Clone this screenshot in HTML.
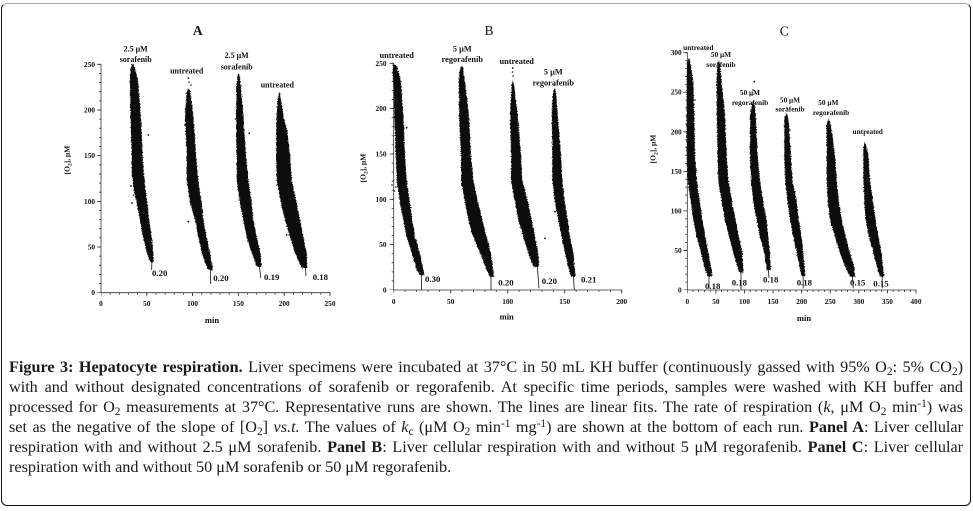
<!DOCTYPE html>
<html>
<head>
<meta charset="utf-8">
<style>
  html,body{margin:0;padding:0;background:#fff;}
  body{width:973px;height:511px;position:relative;overflow:hidden;}
  .frame{position:absolute;left:0.5px;top:2.5px;width:968px;height:501px;border:1.5px solid #111;border-top-color:#aaa;border-radius:6px;}
  svg{position:absolute;left:0;top:0;}
  .cap{position:absolute;left:9px;top:357px;width:954px;font-family:"Liberation Serif",serif;font-size:16.2px;line-height:20px;color:#1a1a1a;}
  .cap .j{text-align:justify;text-align-last:justify;white-space:normal;}
  .cap b{font-weight:bold;}
  sub,sup{font-size:0.7em;line-height:0;position:relative;vertical-align:baseline;}
  sub{top:0.3em;}
  sup{top:-0.45em;}
  text{font-family:"Liberation Serif",serif;font-weight:bold;fill:#111;}
</style>
</head>
<body>
<div class="frame"></div>
<svg width="973" height="340" viewBox="0 0 973 340" xmlns="http://www.w3.org/2000/svg">
  <defs>
    <filter id="r" x="-10%" y="-5%" width="120%" height="110%">
      <feTurbulence type="fractalNoise" baseFrequency="0.8" numOctaves="1" seed="4" result="n"/>
      <feDisplacementMap in="SourceGraphic" in2="n" scale="3" xChannelSelector="R" yChannelSelector="G"/>
    </filter>
  </defs>

  <!-- Titles -->
  <text x="197.7" y="35" font-size="13.5" text-anchor="middle">A</text>
  <text x="489" y="35" font-size="13.5" text-anchor="middle" style="font-weight:normal">B</text>
  <text x="784.3" y="35.5" font-size="13.5" text-anchor="middle" style="font-weight:normal">C</text>

  <!-- ============ PANEL A ============ -->
  <g stroke="#333" fill="none">
    <line x1="101" y1="292.7" x2="101" y2="64" stroke-width="0.8"/>
    <line x1="101" y1="292.7" x2="330.5" y2="292.7" stroke-width="0.8"/>
    <line x1="100" y1="292.7" x2="100" y2="63" stroke-width="2" stroke-dasharray="0.8 8.336" stroke-dashoffset="0.4"/>
    <line x1="99" y1="292.7" x2="99" y2="63" stroke-width="4" stroke-dasharray="0.8 44.88" stroke-dashoffset="0.4"/>
    <line x1="101" y1="293.7" x2="331.5" y2="293.7" stroke-width="2" stroke-dasharray="0.8 8.36" stroke-dashoffset="0.4"/>
    <line x1="101" y1="294.4" x2="331.5" y2="294.4" stroke-width="3.5" stroke-dasharray="0.8 45.0" stroke-dashoffset="0.4"/>
  </g>
  <g font-size="7.3" text-anchor="end">
    <text x="95" y="295.2">0</text>
    <text x="95" y="249.5">50</text>
    <text x="95" y="203.8">100</text>
    <text x="95" y="158.2">150</text>
    <text x="95" y="112.5">200</text>
    <text x="95" y="66.8">250</text>
  </g>
  <g font-size="7.3" text-anchor="middle">
    <text x="101" y="305.8">0</text>
    <text x="146.8" y="305.8">50</text>
    <text x="192.6" y="305.8">100</text>
    <text x="238.4" y="305.8">150</text>
    <text x="284.2" y="305.8">200</text>
    <text x="330" y="305.8">250</text>
  </g>
  <text x="212" y="323" font-size="8.5" text-anchor="middle">min</text>
  <text transform="translate(69.5,160) rotate(-90)" font-size="7.5" text-anchor="middle">[O<tspan font-size="5.5" dy="2">2</tspan><tspan dy="-2">], μM</tspan></text>

  <g fill="#111" filter="url(#r)">
    <polygon points="131.7,64 130,72 130,82 130.5,115 131.5,155 131.7,175 134,190 136.5,203 140,220 143,237 147,253 150,262 153.5,262 153.3,253 151.7,237 149.3,220 147.3,203 145.5,188 144,175 142.7,155 140.7,115 138.3,82 135,68 133,64"/>
    <polygon points="188.5,88 186.5,92 185,115 186.7,155 186.7,180 188.5,192 190,203 195,220 198.3,237 201.7,253 206.7,267 209,270 212.7,270 212.7,267 210,253 206.7,237 203.3,220 201.7,203 198.3,180 196,155 193.3,115 190,90"/>
    <polygon points="238.3,73 237.3,78 236.7,84 236,115 236.7,155 236.7,180 240,203 243.3,220 246.7,237 251.7,253 256.7,267 261.7,267 260.7,253 256.7,237 253.3,220 251.7,203 248.3,180 246,155 243.3,115 240.7,84 239.5,76"/>
    <polygon points="279.3,91 277.5,100 276.7,115 276,155 276.7,180 280.7,203 285,220 290,237 295,253 301.7,268 307.3,268 306.7,253 303.3,237 300,220 296.7,203 291.7,180 290,155 287,130 283.3,115 281,100"/>
  </g>
  <g fill="#111">
    <circle cx="148.3" cy="135" r="0.9"/><circle cx="131" cy="186" r="0.9"/><circle cx="132" cy="203" r="0.9"/><circle cx="133.5" cy="195" r="0.8"/>
    <circle cx="188.3" cy="78" r="0.9"/><circle cx="189" cy="82" r="0.8"/><circle cx="191" cy="85" r="0.8"/><circle cx="188.3" cy="221.7" r="0.9"/><circle cx="185" cy="125" r="0.9"/>
    <circle cx="249.3" cy="133.3" r="0.9"/><circle cx="235.5" cy="119" r="0.8"/>
    <circle cx="286.7" cy="235" r="0.9"/><circle cx="277" cy="185" r="0.8"/><circle cx="279.5" cy="95" r="0.8"/>
  </g>
  <g stroke="#111" stroke-width="0.8">
    <line x1="152" y1="255" x2="151.7" y2="270"/>
    <line x1="210.5" y1="262" x2="210.7" y2="284"/>
    <line x1="259" y1="262" x2="260.7" y2="278"/>
    <line x1="305" y1="262" x2="306" y2="276"/>
  </g>
  <g font-size="8.8">
    <text x="152" y="276">0.20</text>
    <text x="213.3" y="281">0.20</text>
    <text x="264" y="280">0.19</text>
    <text x="312.7" y="280">0.18</text>
  </g>
  <g font-size="8" text-anchor="middle">
    <text x="135.7" y="51.5">2.5 μM</text>
    <text x="135.7" y="62">sorafenib</text>
    <text x="186.7" y="73.5">untreated</text>
    <text x="236.7" y="58">2.5 μM</text>
    <text x="236.7" y="69.5">sorafenib</text>
    <text x="277.3" y="87.5">untreated</text>
  </g>

  <!-- ============ PANEL B ============ -->
  <g stroke="#333" fill="none">
    <line x1="393.7" y1="290" x2="393.7" y2="63" stroke-width="0.8"/>
    <line x1="393.7" y1="290" x2="622" y2="290" stroke-width="0.8"/>
    <line x1="392.7" y1="290" x2="392.7" y2="62" stroke-width="2" stroke-dasharray="0.8 8.268" stroke-dashoffset="0.4"/>
    <line x1="391.7" y1="290" x2="391.7" y2="62" stroke-width="4" stroke-dasharray="0.8 44.54" stroke-dashoffset="0.4"/>
    <line x1="393.7" y1="291" x2="623" y2="291" stroke-width="2" stroke-dasharray="0.8 10.6" stroke-dashoffset="0.4"/>
    <line x1="393.7" y1="291.7" x2="623" y2="291.7" stroke-width="3.5" stroke-dasharray="0.8 56.2" stroke-dashoffset="0.4"/>
  </g>
  <g font-size="7.3" text-anchor="end">
    <text x="386.5" y="292.5">0</text>
    <text x="386.5" y="247.2">50</text>
    <text x="386.5" y="201.8">100</text>
    <text x="386.5" y="156.5">150</text>
    <text x="386.5" y="111.1">200</text>
    <text x="386.5" y="65.8">250</text>
  </g>
  <g font-size="7.3" text-anchor="middle">
    <text x="393.7" y="303.8">0</text>
    <text x="450.7" y="303.8">50</text>
    <text x="507.7" y="303.8">100</text>
    <text x="564.7" y="303.8">150</text>
    <text x="621.7" y="303.8">200</text>
  </g>
  <text x="506.7" y="319.5" font-size="8.5" text-anchor="middle">min</text>
  <text transform="translate(365.5,168) rotate(-90)" font-size="7.5" text-anchor="middle">[O<tspan font-size="5.5" dy="2">2</tspan><tspan dy="-2">], μM</tspan></text>

  <g fill="#111" filter="url(#r)">
    <polygon points="393.3,64 392.8,70 393.3,82 394.3,115 395.7,155 396.7,180 400,203 403.3,220 406.7,237 411.7,253 416.7,270 420,275 424.3,275 423.3,270 420,253 415,237 412.3,220 410,203 406.7,180 405,155 403.3,115 401,82 397,66"/>
    <polygon points="461.7,65 459.5,72 459,82 459,115 461,155 461,180 465,203 468.3,220 473.3,237 480,253 486.7,270 490,276.7 494.3,276.7 493.3,270 491,253 486.7,237 482.3,220 478.3,203 473.3,180 471,155 469,115 465,82 463,67"/>
    <polygon points="512.7,80 511.5,86 510,115 511,155 511,180 515,203 518.3,220 523.3,237 528.3,253 533.3,266.7 539,266.7 538.3,253 535,237 531.7,220 528.3,203 522.3,180 521,155 517.7,115 514.3,86"/>
    <polygon points="554.3,88 552.5,95 551.7,115 552.3,155 552.3,180 555,203 558.3,220 561.7,237 565,253 569,270 571,276.7 575.7,276.7 575,270 573.3,253 570,237 567.7,220 565,203 562.3,180 561,155 557.7,115 556,92"/>
  </g>
  <g fill="#111">
    <circle cx="406.7" cy="127.7" r="0.9"/><circle cx="392" cy="185" r="0.8"/><circle cx="394.5" cy="191" r="0.8"/><circle cx="396" cy="187" r="0.8"/>
    <circle cx="461.7" cy="185" r="0.9"/><circle cx="464" cy="187" r="0.8"/><circle cx="471.7" cy="231.7" r="0.9"/>
    <circle cx="512.7" cy="68" r="0.9"/><circle cx="512.5" cy="72" r="0.8"/><circle cx="513" cy="76" r="0.8"/><circle cx="545" cy="238.3" r="0.9"/>
    <circle cx="555" cy="211.7" r="0.9"/><circle cx="554.3" cy="85" r="0.8"/>
  </g>
  <g stroke="#111" stroke-width="0.8">
    <line x1="421" y1="268" x2="421.7" y2="290"/>
    <line x1="491" y1="270" x2="491" y2="290"/>
    <line x1="537" y1="262" x2="539" y2="288.3"/>
    <line x1="573" y1="270" x2="574.3" y2="290"/>
  </g>
  <g font-size="8.8">
    <text x="425" y="282">0.30</text>
    <text x="498.3" y="285.7">0.20</text>
    <text x="541.7" y="284">0.20</text>
    <text x="581" y="282.3">0.21</text>
  </g>
  <g font-size="8.3" text-anchor="middle">
    <text x="396.7" y="58">untreated</text>
    <text x="462.3" y="51.3">5 μM</text>
    <text x="462.3" y="62">regorafenib</text>
    <text x="516.7" y="64">untreated</text>
    <text x="553.3" y="74.7">5 μM</text>
    <text x="553.3" y="85.7">regorafenib</text>
  </g>

  <!-- ============ PANEL C ============ -->
  <g stroke="#333" fill="none">
    <line x1="687.3" y1="290" x2="687.3" y2="52" stroke-width="0.8"/>
    <line x1="687.3" y1="290" x2="916.5" y2="290" stroke-width="0.8"/>
    <line x1="686.3" y1="290" x2="686.3" y2="52" stroke-width="2" stroke-dasharray="0.8 7.11" stroke-dashoffset="0.4"/>
    <line x1="685.3" y1="290" x2="685.3" y2="52" stroke-width="4" stroke-dasharray="0.8 38.75" stroke-dashoffset="0.4"/>
    <line x1="687.3" y1="291" x2="917" y2="291" stroke-width="2" stroke-dasharray="0.8 4.9175" stroke-dashoffset="0.4"/>
    <line x1="687.3" y1="291.7" x2="917" y2="291.7" stroke-width="3.5" stroke-dasharray="0.8 27.7875" stroke-dashoffset="0.4"/>
  </g>
  <g font-size="7.3" text-anchor="end">
    <text x="681.7" y="292.5">0</text>
    <text x="681.7" y="252.9">50</text>
    <text x="681.7" y="213.4">100</text>
    <text x="681.7" y="173.8">150</text>
    <text x="681.7" y="134.3">200</text>
    <text x="681.7" y="94.7">250</text>
    <text x="681.7" y="55.2">300</text>
  </g>
  <g font-size="7.3" text-anchor="middle">
    <text x="687.3" y="303.8">0</text>
    <text x="715.9" y="303.8">50</text>
    <text x="744.5" y="303.8">100</text>
    <text x="773.1" y="303.8">150</text>
    <text x="801.7" y="303.8">200</text>
    <text x="830.2" y="303.8">250</text>
    <text x="858.8" y="303.8">300</text>
    <text x="887.4" y="303.8">350</text>
    <text x="916" y="303.8">400</text>
  </g>
  <text x="804" y="321" font-size="8.5" text-anchor="middle">min</text>
  <text transform="translate(655.5,149) rotate(-90)" font-size="7.5" text-anchor="middle">[O<tspan font-size="5.5" dy="2">2</tspan><tspan dy="-2">], μM</tspan></text>

  <g fill="#111" filter="url(#r)">
    <polygon points="688.3,58 687,65 686.7,82 686.7,115 686.7,155 687.7,180 691,203 693.3,220 696.7,237 701,253 705,270 708.3,276.7 712.3,276.7 711.7,270 708.3,253 705.7,237 702.3,220 700,203 696.7,180 695,155 694.3,115 693.3,82 690,60"/>
    <polygon points="718.3,60 717,68 716.7,82 716.7,115 717.7,155 718.3,180 721.7,203 725,220 729,237 733.3,253 738.3,270 740,273 743.3,273 743.3,270 742.3,253 739,237 735.7,220 732.3,203 728.3,180 726.7,155 725,115 721.7,82 720,64"/>
    <polygon points="753,100 751,108 750,115 750,155 751,180 753.3,203 756.7,220 760,237 764.3,253 766.7,270 770.7,270 770,253 768.3,237 766.7,220 763.3,203 760,180 757.7,155 755.7,115 754.5,104"/>
    <polygon points="786.5,113 784.3,118 784.3,155 785,180 787.7,203 790,220 793.3,237 796.7,253 800,270 801.7,276 805,276 805,270 803.3,253 801.7,237 799,220 796.7,203 792.3,180 791,155 788.3,118"/>
    <polygon points="828.3,118 826.5,125 826.7,155 826.7,180 827.7,203 830,220 835,237 840,253 845,266.7 850,276.7 855,276.7 854.3,266.7 850,253 845.7,237 841.7,220 839,203 836.7,180 835,155 831,125"/>
    <polygon points="864.3,140 863.5,145 863.3,155 863.3,180 864.3,203 865.7,220 869,237 873.3,253 877.7,270 880,276.7 884.5,276.7 883.3,270 881.7,253 878.3,237 875.7,220 873.3,203 870,180 868.3,155 866,145"/>
  </g>
  <g fill="#111">
    <circle cx="693" cy="88" r="0.8"/><circle cx="695" cy="100" r="0.8"/>
    <circle cx="754.3" cy="81.7" r="0.9"/><circle cx="753" cy="90" r="0.8"/><circle cx="752" cy="95" r="0.8"/><circle cx="768.3" cy="245" r="0.9"/>
    <circle cx="787" cy="108" r="0.8"/><circle cx="790" cy="130" r="0.8"/>
    <circle cx="828.3" cy="201.7" r="0.9"/><circle cx="835" cy="225" r="0.8"/><circle cx="828" cy="113" r="0.8"/>
    <circle cx="864.3" cy="135" r="0.8"/>
  </g>
  <g stroke="#111" stroke-width="0.8">
    <line x1="709" y1="270" x2="709" y2="288.3"/>
    <line x1="741" y1="268" x2="741" y2="289.3"/>
    <line x1="768" y1="265" x2="769" y2="278"/>
    <line x1="803" y1="270" x2="803.3" y2="288.3"/>
    <line x1="852" y1="272" x2="853.3" y2="288.3"/>
    <line x1="882" y1="272" x2="882.3" y2="288.3"/>
  </g>
  <g font-size="8.8">
    <text x="705" y="288.8">0.18</text>
    <text x="731.7" y="285.3">0.18</text>
    <text x="763" y="282.3">0.18</text>
    <text x="796.7" y="285.3">0.18</text>
    <text x="850" y="285.3">0.15</text>
    <text x="873.3" y="286.3">0.15</text>
  </g>
  <g font-size="7.3" text-anchor="middle">
    <text x="698.3" y="49.8">untreated</text>
    <text x="721" y="56.8">50 μM</text>
    <text x="721" y="66.8">sorafenib</text>
    <text x="750" y="94.8">50 μM</text>
    <text x="750" y="104.8">regorafenib</text>
    <text x="790" y="102.5">50 μM</text>
    <text x="790" y="111.5">sorafenib</text>
    <text x="828.3" y="104.8">50 μM</text>
    <text x="831" y="114.8">regorafenib</text>
    <text x="867.7" y="134.2">untreated</text>
  </g>
</svg>

<div class="cap">
  <div class="j"><b>Figure 3: Hepatocyte respiration.</b> Liver specimens were incubated at 37°C in 50 mL KH buffer (continuously gassed with 95% O<sub>2</sub>: 5% CO<sub>2</sub>)</div>
  <div class="j">with and without designated concentrations of sorafenib or regorafenib. At specific time periods, samples were washed with KH buffer and</div>
  <div class="j">processed for O<sub>2</sub> measurements at 37°C. Representative runs are shown. The lines are linear fits. The rate of respiration (<i>k</i>, μM O<sub>2</sub> min<sup>-1</sup>) was</div>
  <div class="j">set as the negative of the slope of [O<sub>2</sub>] <i>vs.t.</i> The values of <i>k</i><sub>c</sub> (μM O<sub>2</sub> min<sup>-1</sup> mg<sup>-1</sup>) are shown at the bottom of each run. <b>Panel A</b>: Liver cellular</div>
  <div class="j">respiration with and without 2.5 μM sorafenib. <b>Panel B</b>: Liver cellular respiration with and without 5 μM regorafenib. <b>Panel C</b>: Liver cellular</div>
  <div>respiration with and without 50 μM sorafenib or 50 μM regorafenib.</div>
</div>
</body>
</html>
